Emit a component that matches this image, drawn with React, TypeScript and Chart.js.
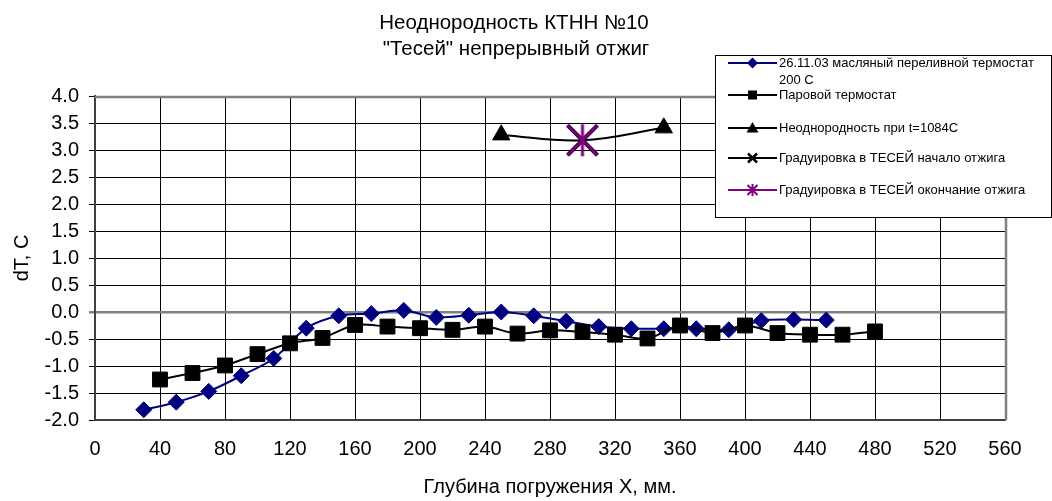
import React, { useEffect, useRef } from 'react';
import { Chart, registerables } from 'chart.js';

Chart.register(...registerables);

const titleLines = ['Неоднородность КТНН №10', '"Тесей" непрерывный отжиг'];
const xAxisTitle = 'Глубина погружения X, мм.';
const yAxisTitle = 'dT, C';
const seriesLabels = [
  '26.11.03 масляный переливной термостат 200 C',
  'Паровой термостат',
  'Неоднородность при t=1084C',
  'Градуировка в ТЕСЕЙ начало отжига',
  'Градуировка в ТЕСЕЙ окончание отжига',
];

const oilX = [30, 50, 70, 90, 110, 130, 150, 170, 190, 210, 230, 250, 270, 290, 310, 330, 350, 370, 390, 410, 430, 450];
const oilY = [-1.81, -1.67, -1.47, -1.18, -0.86, -0.3, -0.07, -0.03, 0.03, -0.1, -0.06, 0.0, -0.07, -0.17, -0.27, -0.31, -0.31, -0.31, -0.33, -0.16, -0.14, -0.15];

const steamX = [40, 60, 80, 100, 120, 140, 160, 180, 200, 220, 240, 260, 280, 300, 320, 340, 360, 380, 400, 420, 440, 460, 480];
const steamY = [-1.25, -1.13, -0.99, -0.78, -0.58, -0.48, -0.24, -0.27, -0.3, -0.33, -0.27, -0.4, -0.34, -0.37, -0.42, -0.49, -0.25, -0.39, -0.25, -0.39, -0.42, -0.42, -0.36];

const meltX = [250, 300, 350];
const meltY = [3.28, 3.18, 3.41];

const startX = [300];
const startY = [3.18];

const endX = [300];
const endY = [3.18];

const xMin = 0;
const xMax = 560;
const xStep = 40;
const yMin = -2;
const yMax = 4;
const yStep = 0.5;

const FONT = "'Liberation Sans', Arial, sans-serif";
const NAVY = '#000080';
const PURPLE = '#800080';

const pts = (xs: number[], ys: number[]) => xs.map((x, i) => ({ x, y: ys[i] }));

function makeAsterisk(): HTMLCanvasElement {
  const c = document.createElement('canvas');
  c.width = 36;
  c.height = 36;
  const g = c.getContext('2d')!;
  g.strokeStyle = PURPLE;
  g.lineWidth = 3;
  g.beginPath();
  g.moveTo(3, 3);
  g.lineTo(33, 33);
  g.moveTo(33, 3);
  g.lineTo(3, 33);
  g.moveTo(18, 2);
  g.lineTo(18, 34);
  g.stroke();
  return c;
}

function drawLegendMarker(ctx: CanvasRenderingContext2D, i: number, x: number, y: number) {
  ctx.save();
  if (i === 0) {
    ctx.fillStyle = NAVY;
    ctx.beginPath();
    ctx.moveTo(x - 5.5, y);
    ctx.lineTo(x, y - 5.5);
    ctx.lineTo(x + 5.5, y);
    ctx.lineTo(x, y + 5.5);
    ctx.closePath();
    ctx.fill();
  } else if (i === 1) {
    ctx.fillStyle = '#000';
    ctx.fillRect(x - 4.5, y - 4.5, 9, 9);
  } else if (i === 2) {
    ctx.fillStyle = '#000';
    ctx.beginPath();
    ctx.moveTo(x, y - 6);
    ctx.lineTo(x + 6, y + 4.5);
    ctx.lineTo(x - 6, y + 4.5);
    ctx.closePath();
    ctx.fill();
  } else if (i === 3) {
    ctx.strokeStyle = '#000';
    ctx.lineWidth = 2.5;
    ctx.beginPath();
    ctx.moveTo(x - 4.5, y - 4.5);
    ctx.lineTo(x + 4.5, y + 4.5);
    ctx.moveTo(x + 4.5, y - 4.5);
    ctx.lineTo(x - 4.5, y + 4.5);
    ctx.stroke();
  } else {
    ctx.strokeStyle = PURPLE;
    ctx.lineWidth = 2;
    ctx.beginPath();
    ctx.moveTo(x - 5, y - 5);
    ctx.lineTo(x + 5, y + 5);
    ctx.moveTo(x + 5, y - 5);
    ctx.lineTo(x - 5, y + 5);
    ctx.moveTo(x, y - 6);
    ctx.lineTo(x, y + 6);
    ctx.stroke();
  }
  ctx.restore();
}

function wrapText(ctx: CanvasRenderingContext2D, text: string, maxW: number): string[] {
  const words = text.split(' ');
  const lines: string[] = [];
  let cur = '';
  for (const w of words) {
    const t = cur ? cur + ' ' + w : w;
    if (cur && ctx.measureText(t).width > maxW) {
      lines.push(cur);
      cur = w;
    } else cur = t;
  }
  if (cur) lines.push(cur);
  return lines;
}

const decorPlugin = {
  id: 'decor',
  beforeDatasetsDraw(chart: any) {
    const { ctx, chartArea: a } = chart;
    ctx.save();
    ctx.strokeStyle = '#808080';
    ctx.lineWidth = 2.5;
    ctx.beginPath();
    ctx.moveTo(a.left, a.top + 1);
    ctx.lineTo(a.right + 1, a.top + 1);
    ctx.lineTo(a.right + 1, a.bottom);
    ctx.stroke();
    ctx.restore();
  },
  afterDraw(chart: any) {
    const { ctx, chartArea: a } = chart;
    ctx.save();
    ctx.fillStyle = '#000';
    ctx.textAlign = 'center';
    ctx.textBaseline = 'alphabetic';
    ctx.font = `20.5px ${FONT}`;
    ctx.fillText(titleLines[0], 514, 29);
    ctx.fillText(titleLines[1], 516, 55);
    ctx.font = `20px ${FONT}`;
    ctx.fillText(xAxisTitle, (a.left + a.right) / 2, 493);
    ctx.save();
    ctx.translate(28, (a.top + a.bottom) / 2);
    ctx.rotate(-Math.PI / 2);
    ctx.fillText(yAxisTitle, 0, 0);
    ctx.restore();

    // legend
    const lx = 715.5, ly = 55.5, lw = 336, lh = 162;
    ctx.fillStyle = '#fff';
    ctx.fillRect(lx, ly, lw, lh);
    ctx.strokeStyle = '#000';
    ctx.lineWidth = 1;
    ctx.strokeRect(lx, ly, lw, lh);
    const rows = [63, 95, 128, 158, 190];
    const colors = [NAVY, '#000', '#000', '#000', PURPLE];
    ctx.font = `13px ${FONT}`;
    ctx.textAlign = 'left';
    ctx.textBaseline = 'middle';
    seriesLabels.forEach((label, i) => {
      const y = rows[i];
      ctx.strokeStyle = colors[i];
      ctx.lineWidth = 2;
      ctx.beginPath();
      ctx.moveTo(728, y);
      ctx.lineTo(777, y);
      ctx.stroke();
      drawLegendMarker(ctx, i, 752.5, y);
      ctx.fillStyle = '#000';
      const lines = wrapText(ctx, label, 268);
      lines.forEach((ln, k) => ctx.fillText(ln, 779, y + k * 17));
    });
    ctx.restore();
  },
};

export default function App() {
  const ref = useRef<HTMLCanvasElement>(null);
  useEffect(() => {
    if (!ref.current) return;
    const asterisk = makeAsterisk();
    const chart = new Chart(ref.current, {
      type: 'line',
      data: {
        datasets: [
          {
            label: seriesLabels[0],
            data: pts(oilX, oilY),
            borderColor: NAVY,
            backgroundColor: NAVY,
            borderWidth: 2,
            pointStyle: 'rectRot',
            pointRadius: 8,
            pointBorderWidth: 1,
            pointBorderColor: NAVY,
            pointBackgroundColor: NAVY,
            tension: 0.3,
            order: 5,
          },
          {
            label: seriesLabels[1],
            data: pts(steamX, steamY),
            borderColor: '#000',
            backgroundColor: '#000',
            borderWidth: 2,
            pointStyle: 'rect',
            pointRadius: 10.5,
            pointBorderWidth: 1,
            pointBorderColor: '#000',
            pointBackgroundColor: '#000',
            tension: 0.3,
            order: 4,
          },
          {
            label: seriesLabels[2],
            data: pts(meltX, meltY),
            borderColor: '#000',
            backgroundColor: '#000',
            borderWidth: 2,
            pointStyle: 'triangle',
            pointRadius: (c: any) => (c.dataIndex === 1 ? 0 : 10),
            pointBorderWidth: 1,
            pointBackgroundColor: '#000',
            tension: 0.4,
            order: 3,
          },
          {
            label: seriesLabels[3],
            data: pts(startX, startY),
            borderColor: '#000',
            backgroundColor: '#000',
            showLine: false,
            pointStyle: 'crossRot',
            pointRadius: 21,
            pointBorderWidth: 4,
            pointBorderColor: '#000',
            order: 2,
          },
          {
            label: seriesLabels[4],
            data: pts(endX, endY),
            borderColor: PURPLE,
            backgroundColor: PURPLE,
            showLine: false,
            pointStyle: asterisk as any,
            pointRadius: 18,
            order: 1,
          },
        ],
      },
      options: {
        responsive: false,
        animation: false,
        layout: { padding: { left: 0, top: 96, right: 47, bottom: 0 } },
        plugins: {
          legend: { display: false },
          title: { display: false },
          tooltip: { enabled: false },
        },
        scales: {
          x: {
            type: 'linear',
            min: xMin,
            max: xMax,
            ticks: {
              stepSize: xStep,
              color: '#000',
              font: { family: FONT, size: 20 },
              padding: 17,
              maxRotation: 0,
              autoSkip: false,
            },
            grid: { color: '#000', lineWidth: 1, drawTicks: false },
            border: { color: '#404040', width: 2 },
            afterFit: (s: any) => {
              s.height = 81;
            },
          },
          y: {
            type: 'linear',
            min: yMin,
            max: yMax,
            ticks: {
              stepSize: yStep,
              color: '#000',
              font: { family: FONT, size: 20 },
              padding: 10,
              callback: (v: any) => Number(v).toFixed(1),
            },
            grid: {
              color: (c: any) => (c.tick && c.tick.value === 0 ? '#808080' : '#000'),
              lineWidth: (c: any) => (c.tick && c.tick.value === 0 ? 2.5 : 1),
              tickLength: 6,
            },
            border: { color: '#404040', width: 2 },
            afterFit: (s: any) => {
              s.width = 95;
            },
          },
        },
      },
      plugins: [decorPlugin],
    });
    return () => chart.destroy();
  }, []);
  return (
    <div style={{ position: 'fixed', left: 0, top: 0, width: 1052, height: 501, background: '#fff' }}>
      <canvas ref={ref} width={1052} height={501} />
    </div>
  );
}
